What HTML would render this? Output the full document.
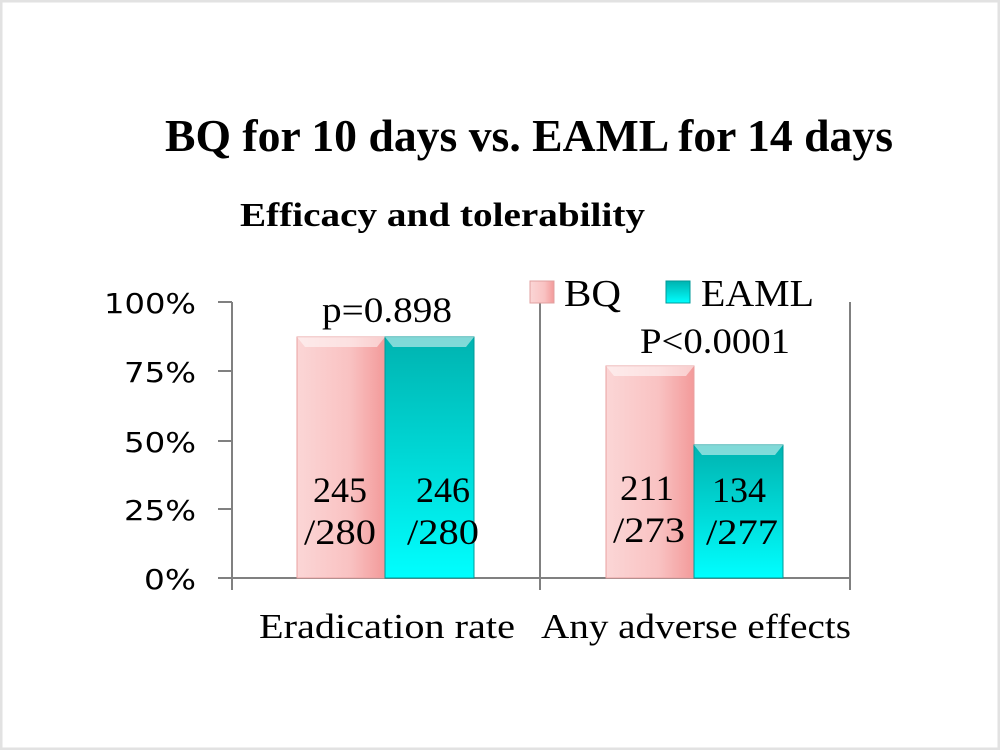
<!DOCTYPE html>
<html><head><meta charset="utf-8"><style>
html,body{margin:0;padding:0;background:#fff;}
svg{display:block;}
</style></head><body>
<svg width="1000" height="750" viewBox="0 0 1000 750" xmlns="http://www.w3.org/2000/svg">
<defs>
<linearGradient id="pk" x1="0" y1="0" x2="1" y2="0">
<stop offset="0" stop-color="#fbd6d6"/><stop offset="0.6" stop-color="#f9c2c2"/><stop offset="1" stop-color="#f39a9a"/>
</linearGradient>
<linearGradient id="tl" x1="0" y1="0" x2="0" y2="1">
<stop offset="0" stop-color="#00b3b0"/><stop offset="0.5" stop-color="#00d8d6"/><stop offset="1" stop-color="#00ffff"/>
</linearGradient>
</defs>
<rect x="1" y="1" width="998" height="748" fill="#fff" stroke="#e2e2e2" stroke-width="3"/>
<text x="165" y="151" font-family="Liberation Serif, serif" font-weight="bold" font-size="46" textLength="728" lengthAdjust="spacingAndGlyphs">BQ for 10 days vs. EAML for 14 days</text>
<text x="240" y="226" font-family="Liberation Serif, serif" font-weight="bold" font-size="34" textLength="405" lengthAdjust="spacingAndGlyphs">Efficacy and tolerability</text>

<g stroke="#808080" stroke-width="2" fill="none">
<line x1="232" y1="302" x2="232" y2="590"/>
<line x1="218" y1="302" x2="232" y2="302"/>
<line x1="218" y1="371" x2="232" y2="371"/>
<line x1="218" y1="441" x2="232" y2="441"/>
<line x1="218" y1="509" x2="232" y2="509"/>
<line x1="218" y1="578" x2="850" y2="578"/>
<line x1="540" y1="302" x2="540" y2="590"/>
<line x1="850" y1="302" x2="850" y2="590"/>
</g>
<g font-family="DejaVu Sans, sans-serif" font-size="28" text-anchor="end" fill="#000">
<text x="196" y="313" textLength="92" lengthAdjust="spacingAndGlyphs">100%</text>
<text x="196" y="382" textLength="72" lengthAdjust="spacingAndGlyphs">75%</text>
<text x="196" y="452" textLength="72" lengthAdjust="spacingAndGlyphs">50%</text>
<text x="196" y="520" textLength="72" lengthAdjust="spacingAndGlyphs">25%</text>
<text x="196" y="589" textLength="52" lengthAdjust="spacingAndGlyphs">0%</text>
</g>

<rect x="297" y="337" width="88" height="241" fill="url(#pk)" stroke="#e8a0a0" stroke-width="1"/>
<rect x="385" y="337" width="89" height="241" fill="url(#tl)" stroke="#009a98" stroke-width="1"/>
<rect x="606" y="366" width="88" height="212" fill="url(#pk)" stroke="#e8a0a0" stroke-width="1"/>
<rect x="694" y="445" width="89" height="133" fill="url(#tl)" stroke="#009a98" stroke-width="1"/>
<g fill="#fff" opacity="0.5">
<polygon points="297,337 385,337 377,347 305,347"/>
<polygon points="385,337 474,337 466,347 393,347"/>
<polygon points="606,366 694,366 686,376 614,376"/>
<polygon points="694,445 783,445 775,455 702,455"/>
</g>

<g font-family="Liberation Serif, serif" font-size="36" fill="#000">
<text x="313" y="502" textLength="54" lengthAdjust="spacingAndGlyphs">245</text>
<text x="304" y="544" textLength="72" lengthAdjust="spacingAndGlyphs">/280</text>
<text x="416" y="502" textLength="54" lengthAdjust="spacingAndGlyphs">246</text>
<text x="407" y="544" textLength="72" lengthAdjust="spacingAndGlyphs">/280</text>
<text x="620" y="500" textLength="54" lengthAdjust="spacingAndGlyphs">211</text>
<text x="613" y="542" textLength="72" lengthAdjust="spacingAndGlyphs">/273</text>
<text x="712" y="502" textLength="54" lengthAdjust="spacingAndGlyphs">134</text>
<text x="706" y="544" textLength="72" lengthAdjust="spacingAndGlyphs">/277</text>
<text x="322" y="322" textLength="130" lengthAdjust="spacingAndGlyphs">p=0.898</text>
<text x="640" y="353" textLength="150" lengthAdjust="spacingAndGlyphs">P&lt;0.0001</text>
</g>

<rect x="530" y="281" width="24" height="22" fill="url(#pk)" stroke="#e0a0a0"/>
<rect x="666" y="281" width="24" height="22" fill="url(#tl)" stroke="#009a98"/>
<g font-family="Liberation Serif, serif" font-size="38" fill="#000">
<text x="564" y="306" textLength="57" lengthAdjust="spacingAndGlyphs">BQ</text>
<text x="701" y="306" textLength="113" lengthAdjust="spacingAndGlyphs">EAML</text>
</g>

<g font-family="Liberation Serif, serif" font-size="35" fill="#000">
<text x="259" y="638" textLength="256" lengthAdjust="spacingAndGlyphs">Eradication rate</text>
<text x="541" y="638" textLength="310" lengthAdjust="spacingAndGlyphs">Any adverse effects</text>
</g>
</svg>
</body></html>
